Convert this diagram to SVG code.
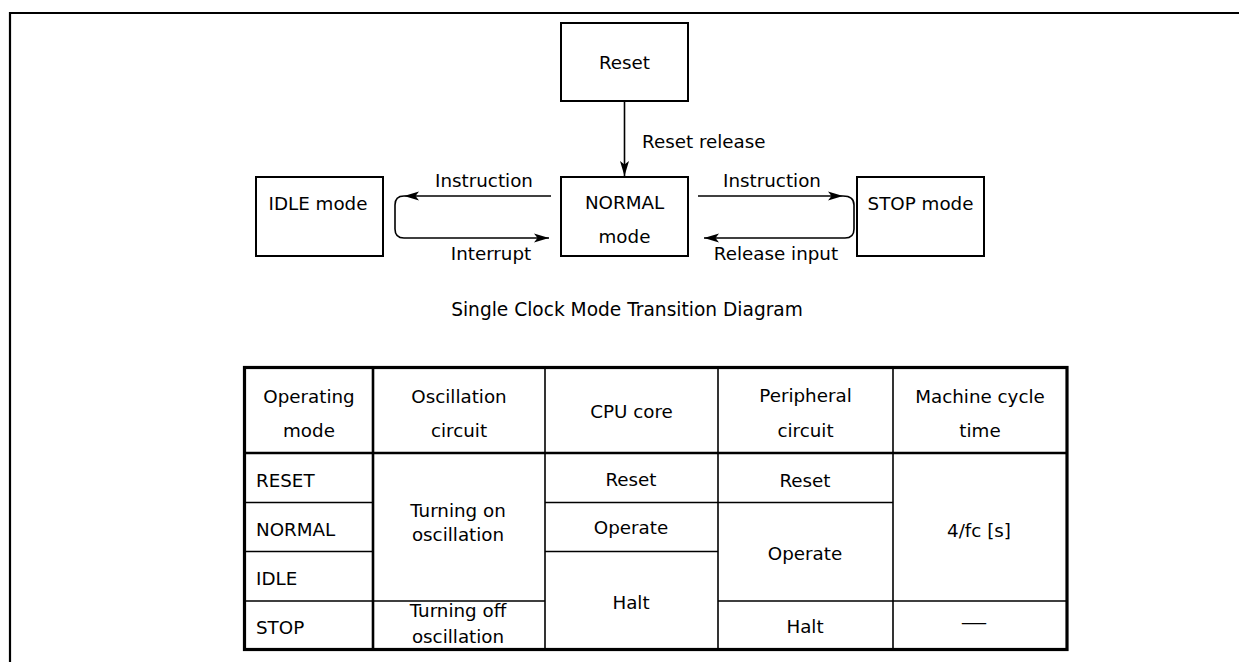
<svg xmlns="http://www.w3.org/2000/svg" width="1239" height="662" viewBox="0 0 1239 662">
<defs>
<style>
text{font-family:"DejaVu Sans","Liberation Sans",sans-serif;fill:#000;}
.lbl{font-size:18.3px;text-anchor:middle;}
.lft{font-size:18.3px;text-anchor:start;}
.box{fill:#fff;stroke:#000;stroke-width:2;}
.con{fill:none;stroke:#000;stroke-width:1.6;}
.tl{stroke:#000;stroke-width:1.6;fill:none;}
</style>
<marker id="arr" viewBox="0 0 15 10" refX="15" refY="5" markerWidth="15" markerHeight="10" markerUnits="userSpaceOnUse" orient="auto">
<path d="M0,0.5 L15,5 L0,9.5 L3.5,5 z" fill="#000"/>
</marker>
</defs>
<rect width="1239" height="662" fill="#fff"/>
<path d="M10,662 V13 H1239" fill="none" stroke="#000" stroke-width="2.2"/>

<g id="connectors">
<path class="con" d="M624.5,101 V176" marker-end="url(#arr)"/>
<path class="con" d="M551,196 H404" marker-end="url(#arr)"/>
<path class="con" d="M404,196 Q395,196 395,205 V229 Q395,238 404,238 H549" marker-end="url(#arr)"/>
<path class="con" d="M698,196 H843" marker-end="url(#arr)"/>
<path class="con" d="M843,196 Q854,196 854,205 V229 Q854,238 845,238 H704" marker-end="url(#arr)"/>
<text class="lft" x="642" y="148">Reset release</text>
<text class="lbl" x="484" y="187">Instruction</text>
<text class="lbl" x="491" y="260">Interrupt</text>
<text class="lbl" x="772" y="187">Instruction</text>
<text class="lbl" x="776" y="260">Release input</text>
</g>

<g id="reset">
<rect class="box" x="561" y="23" width="127" height="78"/>
<text class="lbl" x="624.5" y="69">Reset</text>
</g>
<g id="normal">
<rect class="box" x="561" y="177" width="127" height="79"/>
<text class="lbl" x="624.5" y="209">NORMAL</text>
<text class="lbl" x="624.5" y="243">mode</text>
</g>
<g id="idle">
<rect class="box" x="256" y="177" width="127" height="79"/>
<text class="lbl" x="318" y="210">IDLE mode</text>
</g>
<g id="stop">
<rect class="box" x="857" y="177" width="127" height="79"/>
<text class="lbl" x="920.5" y="210">STOP mode</text>
</g>

<text class="lbl" x="627" y="315.5" style="font-size:18.6px">Single Clock Mode Transition Diagram</text>

<g id="table">
<rect x="244.5" y="367.5" width="822.5" height="282" fill="none" stroke="#000" stroke-width="3.2"/>
<line x1="373" y1="367" x2="373" y2="650" stroke="#000" stroke-width="2.6"/>
<line class="tl" x1="545" y1="367" x2="545" y2="650"/>
<line class="tl" x1="718" y1="367" x2="718" y2="650"/>
<line class="tl" x1="893" y1="367" x2="893" y2="650"/>
<line x1="244" y1="453" x2="1067" y2="453" stroke="#000" stroke-width="2.6"/>
<path class="tl" d="M244,502.5 H373 M545,502.5 H893 M244,551.5 H373 M545,551.5 H718 M244,601 H545 M718,601 H1067"/>

<text class="lbl" x="309" y="403">Operating</text>
<text class="lbl" x="309" y="437">mode</text>
<text class="lbl" x="459" y="403">Oscillation</text>
<text class="lbl" x="459" y="437">circuit</text>
<text class="lbl" x="631.5" y="418">CPU core</text>
<text class="lbl" x="805.5" y="402">Peripheral</text>
<text class="lbl" x="805.5" y="437">circuit</text>
<text class="lbl" x="980" y="403">Machine cycle</text>
<text class="lbl" x="980" y="437">time</text>

<text class="lft" x="256" y="487">RESET</text>
<text class="lft" x="256" y="536">NORMAL</text>
<text class="lft" x="256" y="585">IDLE</text>
<text class="lft" x="256" y="634">STOP</text>

<text class="lbl" x="458" y="517">Turning on</text>
<text class="lbl" x="458" y="541">oscillation</text>
<text class="lbl" x="458" y="617">Turning off</text>
<text class="lbl" x="458" y="643">oscillation</text>

<text class="lbl" x="631" y="486">Reset</text>
<text class="lbl" x="631" y="534">Operate</text>
<text class="lbl" x="631" y="609">Halt</text>

<text class="lbl" x="805" y="487">Reset</text>
<text class="lbl" x="805" y="560">Operate</text>
<text class="lbl" x="805" y="633">Halt</text>

<text class="lbl" x="979" y="537">4/fc [s]</text>
<text class="lbl" x="974" y="628" textLength="27" lengthAdjust="spacingAndGlyphs">—</text>
</g>
</svg>
